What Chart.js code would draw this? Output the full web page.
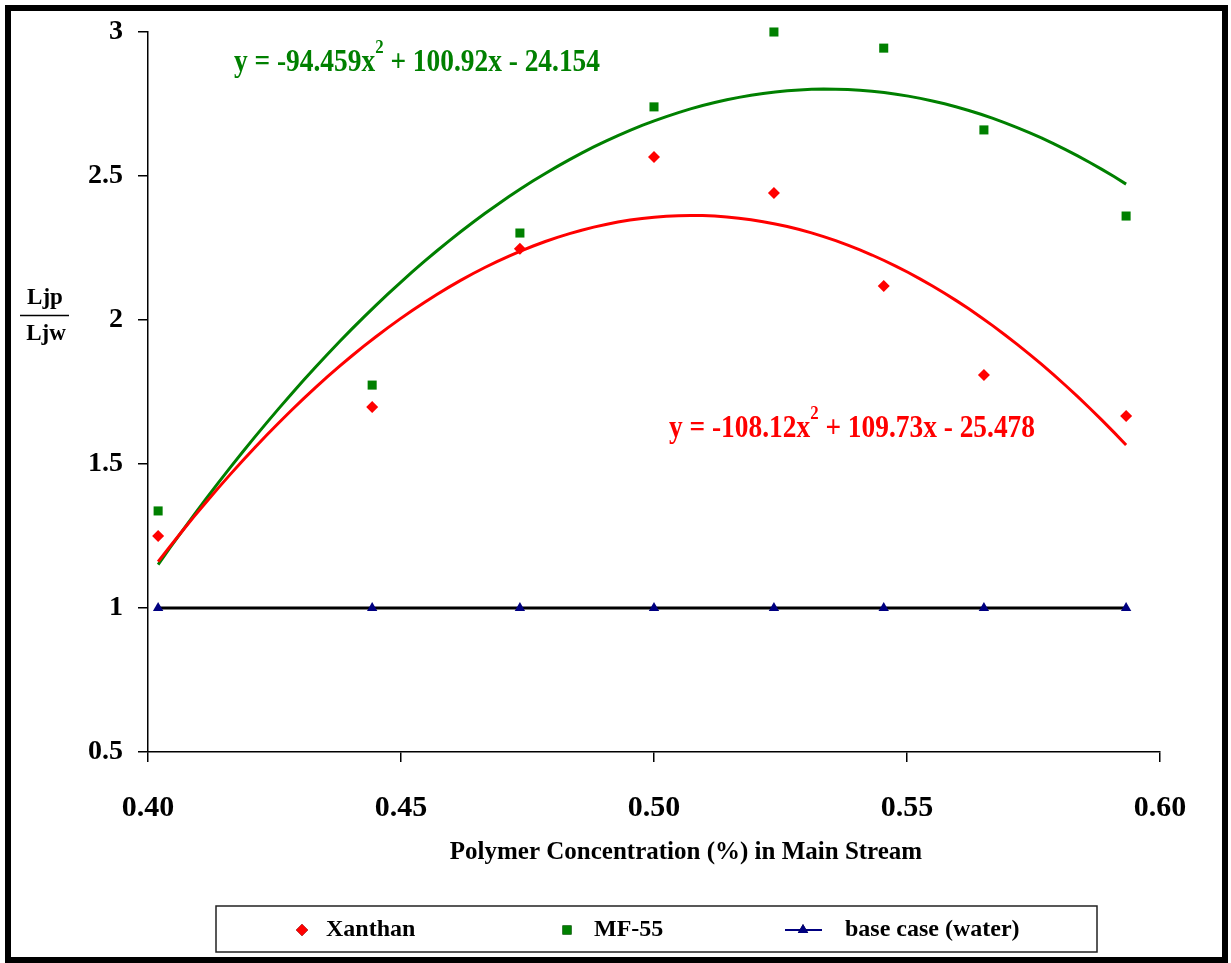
<!DOCTYPE html>
<html>
<head>
<meta charset="utf-8">
<script src="https://cdn.jsdelivr.net/npm/chart.js@4.4.1/dist/chart.umd.min.js"></script>
<style>
  html, body { margin: 0; padding: 0; background: #fff; }
  #wrap { width: 1231px; height: 963px; }
</style>
</head>
<body>
<div id="wrap"><canvas id="myChart" width="1231" height="963"></canvas></div>
<script>
// polymer concentration (%) of each run
const concentration = [0.402, 0.4443, 0.4735, 0.500, 0.5237, 0.5454, 0.5652, 0.5933];
// Ljp / Ljw measured for each polymer
const xanthan = [1.25, 1.698, 2.247, 2.566, 2.441, 2.118, 1.809, 1.667];
const mf55 = [1.337, 1.774, 2.302, 2.740, 3.000, 2.944, 2.660, 2.361];
const water = [1, 1, 1, 1, 1, 1, 1, 1];

// quadratic trendline coefficients [a, b, c] for y = ax^2 + bx + c
const xanthanFit = [-108.12, 109.73, -25.478];
const mf55Fit = [-94.459, 100.92, -24.154];

const xTicks = [0.40, 0.45, 0.50, 0.55, 0.60];
const yTicks = [0.5, 1, 1.5, 2, 2.5, 3];

const legendNames = ['Xanthan', 'MF-55', 'base case (water)'];

const SERIF = '"Liberation Serif", "Times New Roman", serif';

function toPoints(xs, ys) {
  return xs.map((x, i) => ({x: x, y: ys[i]}));
}

function fitCurve(coef, xs) {
  const pts = [];
  const x0 = xs[0];
  const x1 = xs[xs.length - 1];
  const n = 80;
  for (let i = 0; i <= n; i++) {
    const x = x0 + (x1 - x0) * i / n;
    pts.push({x: x, y: coef[0] * x * x + coef[1] * x + coef[2]});
  }
  return pts;
}

function eqParts(coef) {
  const sign = v => (v < 0 ? '- ' : '+ ') + Math.abs(v);
  return ['y = ' + coef[0] + 'x', '2', ' ' + sign(coef[1]) + 'x ' + sign(coef[2])];
}

// equation with superscript, squeezed to a given width
function drawEquation(ctx, coef, color, left, midY, width) {
  const parts = eqParts(coef);
  const big = 'bold 31px ' + SERIF;
  const small = 'bold 19px ' + SERIF;
  ctx.font = big;
  const w0 = ctx.measureText(parts[0]).width;
  const w2 = ctx.measureText(parts[2]).width;
  ctx.font = small;
  const w1 = ctx.measureText(parts[1]).width;
  const k = width / (w0 + w1 + w2);
  ctx.save();
  ctx.translate(left, midY);
  ctx.scale(k, 1);
  ctx.fillStyle = color;
  ctx.textBaseline = 'middle';
  ctx.textAlign = 'left';
  ctx.font = big;
  ctx.fillText(parts[0], 0, 0);
  ctx.font = small;
  ctx.fillText(parts[1], w0, -15);
  ctx.font = big;
  ctx.fillText(parts[2], w0 + w1, 0);
  ctx.restore();
}

const decorations = {
  id: 'decorations',
  afterDraw(chart) {
    const ctx = chart.ctx;
    ctx.save();

    // outer frame
    ctx.strokeStyle = '#000';
    ctx.lineWidth = 6;
    ctx.strokeRect(8, 8, 1217, 952);

    // y axis label as a fraction
    ctx.fillStyle = '#000';
    ctx.font = 'bold 23px ' + SERIF;
    ctx.textAlign = 'center';
    ctx.textBaseline = 'middle';
    ctx.fillText('Ljp', 45, 298);
    ctx.fillText('Ljw', 46, 334);
    ctx.lineWidth = 1.5;
    ctx.beginPath();
    ctx.moveTo(20, 315.5);
    ctx.lineTo(69, 315.5);
    ctx.stroke();

    // x axis title
    ctx.font = 'bold 25px ' + SERIF;
    ctx.fillText('Polymer Concentration (%) in Main Stream', 686, 853);

    // trendline equations
    drawEquation(ctx, mf55Fit, '#008000', 234, 63, 366);
    drawEquation(ctx, xanthanFit, '#ff0000', 669, 429, 366);

    // legend box
    ctx.lineWidth = 1.5;
    ctx.strokeStyle = '#222';
    ctx.strokeRect(216, 906, 881, 46);
    const ly = 930;
    ctx.font = 'bold 24px ' + SERIF;
    ctx.textAlign = 'left';
    ctx.fillStyle = '#000';

    Chart.helpers.drawPoint(ctx, {pointStyle: 'rectRot', radius: 6, borderWidth: 0}, 302, ly);
    ctx.fillStyle = '#ff0000';
    ctx.fill();
    ctx.fillStyle = '#000';
    ctx.fillText(legendNames[0], 326, ly);

    Chart.helpers.drawPoint(ctx, {pointStyle: 'rect', radius: 6.4, borderWidth: 0}, 567, ly);
    ctx.fillStyle = '#008000';
    ctx.fill();
    ctx.fillStyle = '#000';
    ctx.fillText(legendNames[1], 594, ly);

    ctx.strokeStyle = '#000080';
    ctx.lineWidth = 2;
    ctx.beginPath();
    ctx.moveTo(785, ly);
    ctx.lineTo(822, ly);
    ctx.stroke();
    Chart.helpers.drawPoint(ctx, {pointStyle: 'triangle', radius: 6, borderWidth: 0}, 803, ly);
    ctx.fillStyle = '#000080';
    ctx.fill();
    ctx.fillStyle = '#000';
    ctx.fillText(legendNames[2], 845, ly);

    ctx.restore();
  }
};

const ctx = document.getElementById('myChart').getContext('2d');
const myChart = new Chart(ctx, {
  type: 'scatter',
  data: {
    datasets: [
      {
        label: legendNames[2],
        data: toPoints(concentration, water),
        showLine: true,
        borderColor: '#000',
        borderWidth: 3,
        pointStyle: 'triangle',
        pointRadius: 6,
        pointBorderWidth: 0,
        pointBackgroundColor: '#000080',
        clip: false,
        order: 5
      },
      {
        label: legendNames[0],
        data: toPoints(concentration, xanthan),
        pointStyle: 'rectRot',
        pointRadius: 6,
        pointBorderWidth: 0,
        pointBackgroundColor: '#ff0000',
        clip: false,
        order: 4
      },
      {
        label: legendNames[1],
        data: toPoints(concentration, mf55),
        pointStyle: 'rect',
        pointRadius: 6.4,
        pointBorderWidth: 0,
        pointBackgroundColor: '#008000',
        clip: false,
        order: 3
      },
      {
        label: 'MF-55 fit',
        data: fitCurve(mf55Fit, concentration),
        showLine: true,
        borderColor: '#008000',
        borderWidth: 3,
        pointRadius: 0,
        tension: 0,
        order: 2
      },
      {
        label: 'Xanthan fit',
        data: fitCurve(xanthanFit, concentration),
        showLine: true,
        borderColor: '#ff0000',
        borderWidth: 3,
        pointRadius: 0,
        tension: 0,
        order: 1
      }
    ]
  },
  options: {
    responsive: false,
    animation: false,
    devicePixelRatio: 1,
    layout: {
      padding: {left: 0, right: 71, top: 32, bottom: 0}
    },
    plugins: {
      legend: {display: false},
      tooltip: {enabled: false}
    },
    scales: {
      x: {
        type: 'linear',
        min: 0.4,
        max: 0.6,
        afterFit: scale => { scale.height = 211; },
        afterBuildTicks: scale => { scale.ticks = xTicks.map(v => ({value: v})); },
        border: {color: '#000', width: 1.5},
        grid: {drawOnChartArea: false, drawTicks: true, tickLength: 10, color: '#000', lineWidth: 1.5},
        ticks: {
          color: '#000',
          padding: 28,
          maxRotation: 0,
          font: {family: SERIF, size: 30, weight: 'bold'},
          callback: v => v.toFixed(2)
        }
      },
      y: {
        min: 0.5,
        max: 3,
        afterFit: scale => { scale.width = 148; },
        afterBuildTicks: scale => { scale.ticks = yTicks.map(v => ({value: v})); },
        border: {color: '#000', width: 1.5},
        grid: {drawOnChartArea: false, drawTicks: true, tickLength: 10, color: '#000', lineWidth: 1.5},
        ticks: {
          color: '#000',
          padding: 15,
          font: {family: SERIF, size: 28, weight: 'bold'},
          callback: v => String(v)
        }
      }
    }
  },
  plugins: [decorations]
});
</script>
</body>
</html>
